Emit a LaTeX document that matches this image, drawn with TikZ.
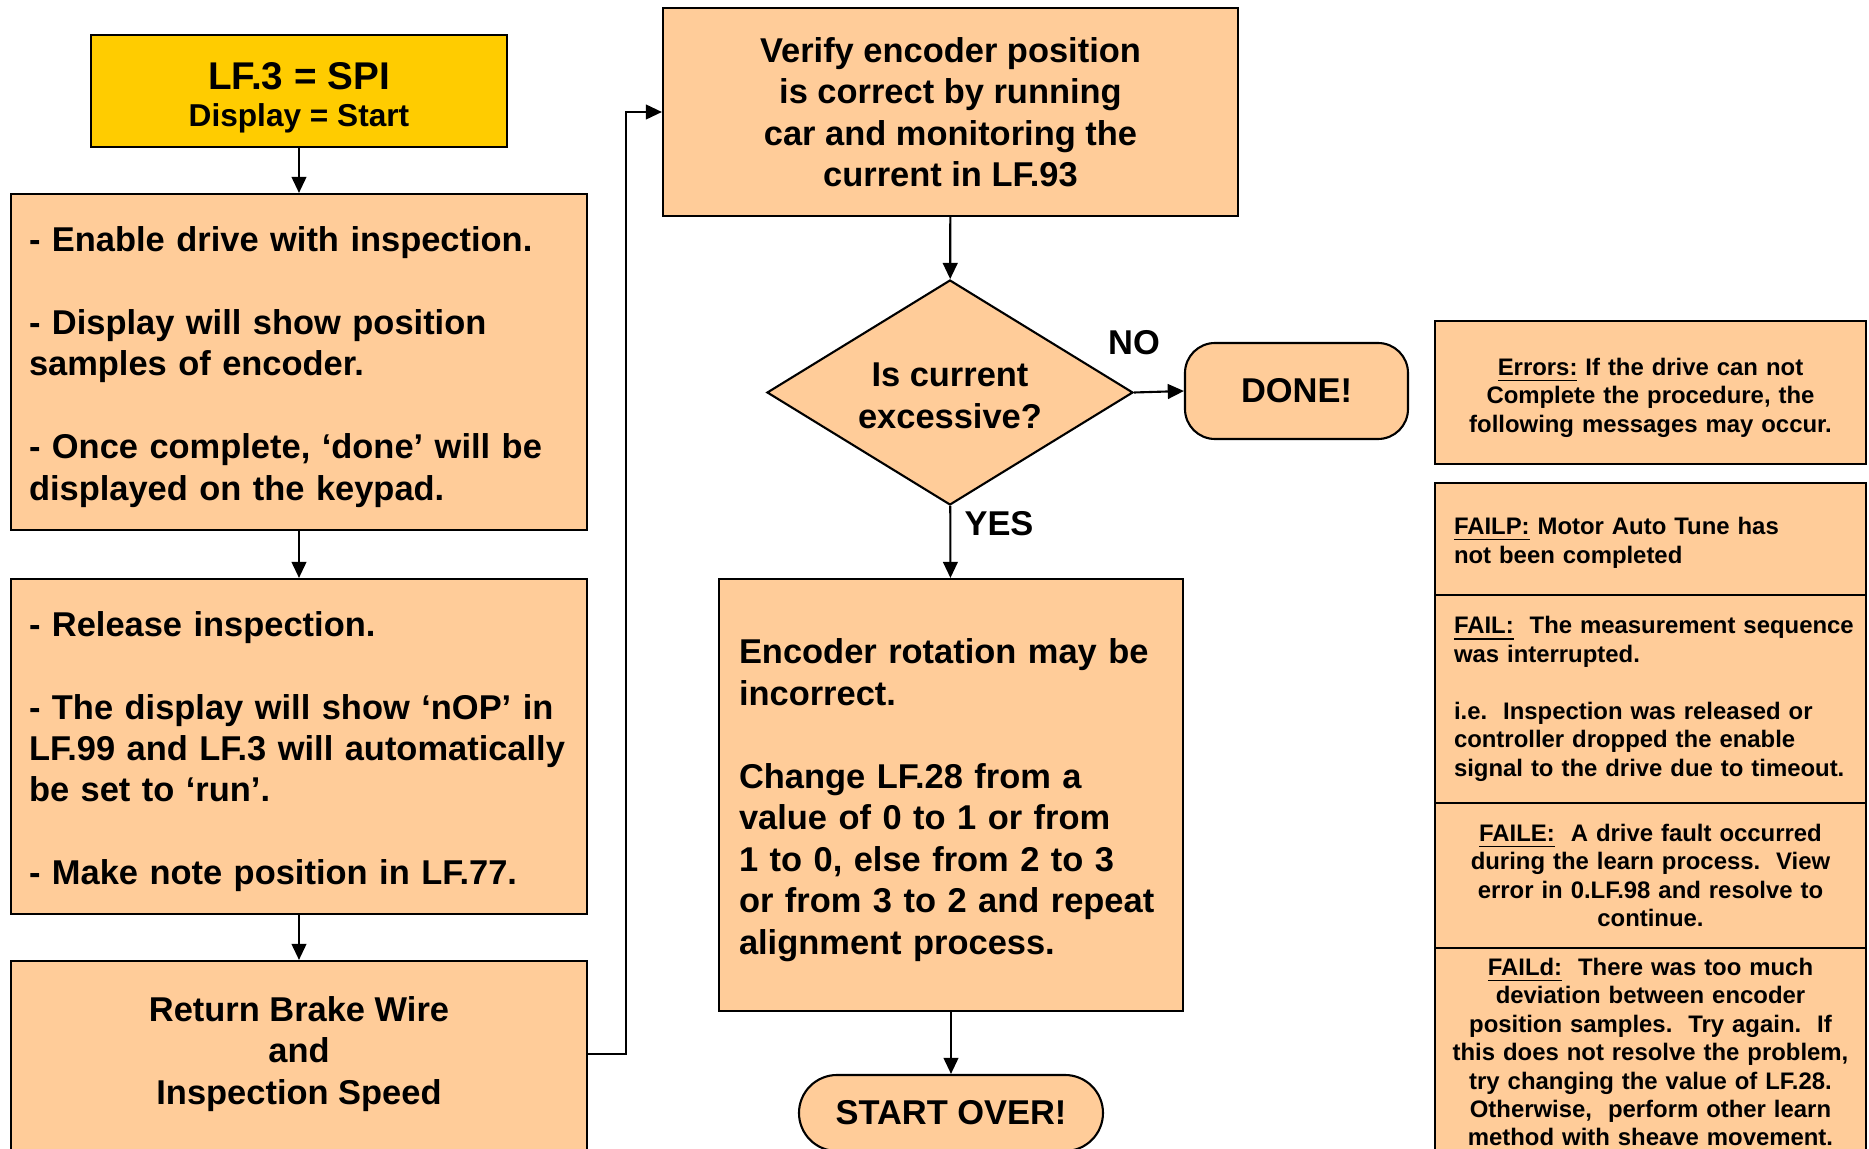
\documentclass[tikz,border=0pt]{standalone}
\usepackage{fontspec}
\setmainfont{Liberation Sans}
\usetikzlibrary{shapes.geometric,arrows.meta}
\definecolor{peach}{HTML}{FFCC99}
\definecolor{gold}{HTML}{FFCC00}

\begin{document}
\begin{tikzpicture}[>={Triangle[length=4.6pt,width=4.2pt]}, line width=0.6pt,
		font=\bfseries\fontsize{9.8}{11.8}\selectfont,
		procbox/.style={draw, fill=peach, inner xsep=0.18cm, inner ysep=0pt},
		decision/.style={draw, fill=peach, diamond, aspect=1.63, inner sep=0pt, minimum width=3.66cm, minimum height=2.25cm, align=center},
		termbox/.style={draw, fill=peach, inner sep=0pt, align=center},
		notebox/.style={draw, fill=peach, inner xsep=0.13cm, inner ysep=0pt, text width=4.05cm, font=\bfseries\fontsize{6.8}{8.1}\selectfont}]
	\useasboundingbox (0,0) rectangle (18.69,-11.49);
	\clip (0,0) rectangle (18.69,-11.49);
	% left column
	\node[draw, fill=gold, minimum width=4.16cm, minimum height=1.12cm, inner sep=0pt, align=center] (start) at (2.99,-0.91)
		{\rule{0pt}{11.7pt}{\fontsize{11}{13}\selectfont LF.3 = SPI}\\[-1.4pt]{\fontsize{9}{11}\selectfont Display = Start}};
	\node[procbox, text width=5.40cm, minimum height=3.36cm, align=left] (enable) at (2.99,-3.62)
		{\rule{0pt}{10pt}- Enable drive with inspection.\\[11.8pt]
		- Display will show position\\samples of encoder.\\[11.8pt]
		- Once complete, ‘done’ will be\\displayed on the keypad.};
	\node[procbox, text width=5.40cm, minimum height=3.35cm, align=left] (release) at (2.99,-7.465)
		{\rule{0pt}{10pt}- Release inspection.\\[11.8pt]
		- The display will show ‘nOP’ in\\LF.99 and LF.3 will automatically\\be set to ‘run’.\\[11.8pt]
		- Make note position in LF.77.};
	\filldraw[fill=peach] (0.11,-9.61) rectangle (5.87,-11.8);
	\node[procbox, draw=none, fill=none, minimum width=5.76cm, minimum height=1.86cm, align=center] (brake) at (2.99,-10.54)
		{Return Brake Wire\\and\\Inspection Speed};
	% middle column
	\node[procbox, minimum width=5.75cm, minimum height=2.08cm, align=center] (verify) at (9.505,-1.12)
		{Verify encoder position\\is correct by running\\car and monitoring the\\current in LF.93};
	\node[decision] (decide) at (9.50,-3.925) {\rule{0pt}{8.5pt}Is current\\excessive?};
	\node[termbox, rounded corners=0.3cm, minimum width=2.23cm, minimum height=0.96cm] (done) at (12.965,-3.91) {DONE!};
	\node (no) at (11.34,-3.43) {NO};
	\node (yes) at (9.99,-5.24) {YES};
	\node[procbox, inner xsep=0.20cm, text width=4.24cm, minimum height=4.32cm, align=left] (encoder) at (9.51,-7.95)
		{\rule{0pt}{10pt}Encoder rotation may be\\incorrect.\\[11.8pt]
		Change LF.28 from a\\value of 0 to 1 or from\\1 to 0, else from 2 to 3\\or from 3 to 2 and repeat\\alignment process.};
	\node[termbox, rounded corners=0.38cm, minimum width=3.04cm, minimum height=0.76cm] (over) at (9.51,-11.13) {START OVER!};
	% right column
	\node[notebox, minimum height=1.43cm, align=center] (errors) at (16.505,-3.925)
		{\rule{0pt}{7.8pt}\underline{Errors:} If the drive can not\\Complete the procedure, the\\following messages may occur.};
	\node[notebox, inner xsep=0.19cm, text width=3.93cm, minimum height=1.12cm, align=left] (failp) at (16.505,-5.39)
		{\rule{0pt}{7pt}\underline{FAILP:} Motor Auto Tune has\\not been completed};
	\node[notebox, inner xsep=0.19cm, text width=3.93cm, minimum height=2.08cm, align=left] (fail) at (16.505,-6.99)
		{\mbox{\underline{FAIL:}\ \ The measurement sequence}\\was interrupted.\\[8.1pt]
		i.e.\ \ Inspection was released or\\controller dropped the enable\\signal to the drive due to timeout.};
	\node[notebox, minimum height=1.45cm, align=center] (faile) at (16.505,-8.755)
		{\underline{FAILE:}\ \ A drive fault occurred\\during the learn process.\ \ View\\error in 0.LF.98 and resolve to\\continue.};
	\node[notebox, minimum height=2.08cm, align=center] (faild) at (16.505,-10.52)
		{\underline{FAILd:}\ \ There was too much\\deviation between encoder\\position samples.\ \ Try again.\ \ If\\this does not resolve the problem,\\try changing the value of LF.28.\\Otherwise,\ \ perform other learn\\method with sheave movement.};
	% connectors
	\draw[->] (start) -- (enable);
	\draw[->] (enable) -- (release);
	\draw[->] (release) -- (brake);
	\draw[->] (brake.east) -- ++(0.375,0) |- (verify.west);
	\draw[->] (verify) -- (decide);
	\draw[->] (decide.east) -- (done.west);
	\draw[->] (decide) -- (encoder);
	\draw[->] (encoder) -- (over);
\end{tikzpicture}
\end{document}
